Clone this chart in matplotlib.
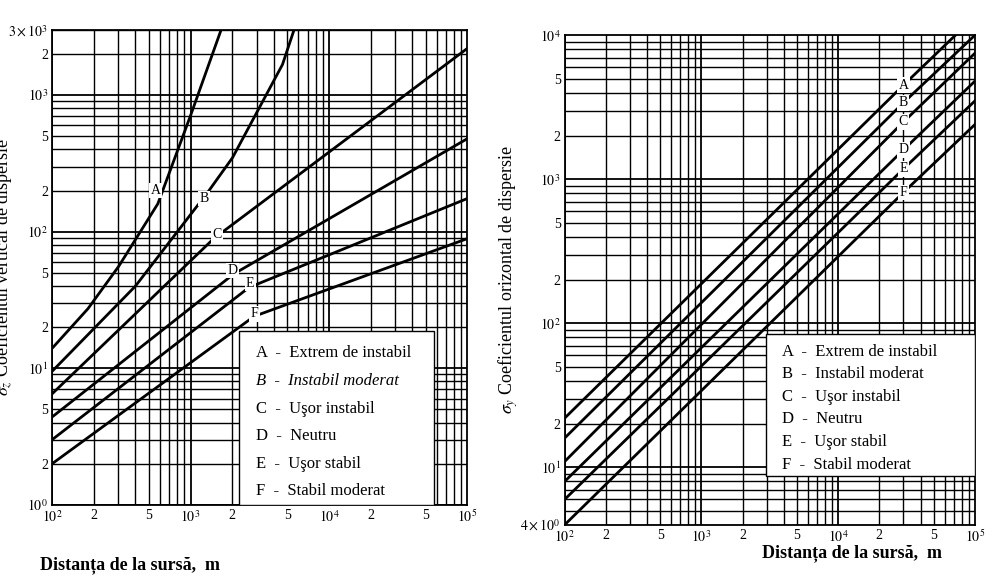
import numpy as np
import matplotlib
matplotlib.use("Agg")
import matplotlib.pyplot as plt

plt.rcParams["font.family"] = "Liberation Serif"
plt.rcParams["mathtext.fontset"] = "stix"

classes = ["A", "B", "C", "D", "E", "F"]
legend_txt = ["Extrem de instabil", "Instabil moderat", "Uşor instabil", "Neutru", "Uşor stabil", "Stabil moderat"]

# sigma_z curves (distance m, sigma m)
sz_x = {
    "A": [100, 180, 300, 580, 970, 1680],
    "B": [100, 400, 1310, 2000, 4600, 5650],
    "C": [100, 1470, 100000],
    "D": [100, 2050, 100000],
    "E": [100, 2640, 100000],
    "F": [100, 2880, 100000],
}
sz_y = {
    "A": [14, 27, 55, 160, 650, 3100],
    "B": [9.5, 40, 190, 345, 1660, 3100],
    "C": [6.5, 89, 2200],
    "D": [4.4, 49, 480],
    "E": [3.0, 39, 175],
    "F": [2.0, 24, 89],
}
sz_label = {"A": (560, 200), "B": (1250, 175), "C": (1550, 95), "D": (2000, 52), "E": (2700, 42), "F": (2900, 25)}

# sigma_y lines
sy_x = [100, 30000, 100000]
sy_y = {
    "A": [22, 4500, 13500],
    "B": [16, 3400, 10000],
    "C": [11, 2500, 7500],
    "D": [8, 1600, 4800],
    "E": [6, 1180, 3500],
    "F": [4, 810, 2400],
}

fig = plt.figure(figsize=(10.03, 5.87), dpi=100)
axL = fig.add_axes([0.052, 0.140, 0.414, 0.809])
axR = fig.add_axes([0.563, 0.106, 0.409, 0.834])

def grid_setup(ax, ylo, yhi, yticks, ylabels):
    ax.set_xscale("log"); ax.set_yscale("log")
    ax.set_xlim(100, 1e5); ax.set_ylim(ylo, yhi)
    for d in [100, 1000, 10000]:
        for m in range(1, 10):
            ax.axvline(d * m, color="black", lw=1.0 if m > 1 else 1.3, zorder=1)
    for d in [1, 10, 100, 1000]:
        for m in range(1, 10):
            v = d * m
            if ylo <= v <= yhi:
                ax.axhline(v, color="black", lw=1.0 if m > 1 else 1.3, zorder=1)
    ax.set_xticks([100, 200, 500, 1000, 2000, 5000, 1e4, 2e4, 5e4, 1e5])
    ax.set_xticklabels([r"$10^2$", "2", "5", r"$10^3$", "2", "5", r"$10^4$", "2", "5", r"$10^5$"])
    ax.set_xticks([], minor=True)
    ax.set_yticks(yticks); ax.set_yticklabels(ylabels)
    ax.set_yticks([], minor=True)
    ax.tick_params(length=0, labelsize=10, pad=3)
    for s in ax.spines.values():
        s.set_linewidth(1.3)

grid_setup(axL, 1, 3000,
           [1, 2, 5, 10, 20, 50, 100, 200, 500, 1000, 2000, 3000],
           [r"$10^0$", "2", "5", r"$10^1$", "2", "5", r"$10^2$", "2", "5", r"$10^3$", "2", r"$3\times10^3$"])
grid_setup(axR, 4, 1e4,
           [4, 10, 20, 50, 100, 200, 500, 1000, 2000, 5000, 10000],
           [r"$4\times10^0$", r"$10^1$", "2", "5", r"$10^2$", "2", "5", r"$10^3$", "2", "5", r"$10^4$"])

for c in classes:
    x = np.array(sz_x[c], float); y = np.array(sz_y[c], float)
    xs = np.logspace(np.log10(x[0]), np.log10(x[-1]), 200)
    ys = 10 ** np.interp(np.log10(xs), np.log10(x), np.log10(y))
    axL.plot(xs, ys, color="black", lw=2, zorder=3, clip_on=True)
    lx, ly = sz_label[c]
    axL.text(lx, ly, c, fontsize=10, ha="center", va="center", zorder=4,
             bbox=dict(facecolor="white", edgecolor="none", pad=1))

for c in classes:
    axR.plot(sy_x, sy_y[c], color="black", lw=2, zorder=3)
    axR.text(30000, sy_y[c][1], c, fontsize=10, ha="center", va="center", zorder=4,
             bbox=dict(facecolor="white", edgecolor="none", pad=1))

def legend_box(ax, x0, y0, w, h, italic_b=False):
    ax.add_patch(plt.Rectangle((x0, y0), w, h, transform=ax.transAxes,
                               facecolor="white", edgecolor="black", lw=1, zorder=5))
    for i, (c, t) in enumerate(zip(classes, legend_txt)):
        yy = y0 + h - (i + 0.8) * h / 6.3
        ax.text(x0 + 0.04, yy, f"{c}  -  {t}", transform=ax.transAxes, fontsize=12,
                va="center", zorder=6, style="italic" if (italic_b and c == "B") else "normal")

legend_box(axL, 0.45, 0.0, 0.47, 0.365, italic_b=True)
legend_box(axR, 0.49, 0.10, 0.51, 0.29)

axL.set_ylabel(r"$\sigma_z$ Coeficientul vertical de dispersie", fontsize=13)
axL.yaxis.set_label_coords(-0.09, 0.5)
axR.set_ylabel(r"$\sigma_y$ Coeficientul orizontal de dispersie", fontsize=13)
axR.yaxis.set_label_coords(-0.11, 0.5)
fig.text(0.04, 0.03, "Distanța de la sursă,  m", fontsize=13, fontweight="bold")
fig.text(0.76, 0.05, "Distanța de la sursă,  m", fontsize=13, fontweight="bold")

fig.savefig("out.png", dpi=100)
